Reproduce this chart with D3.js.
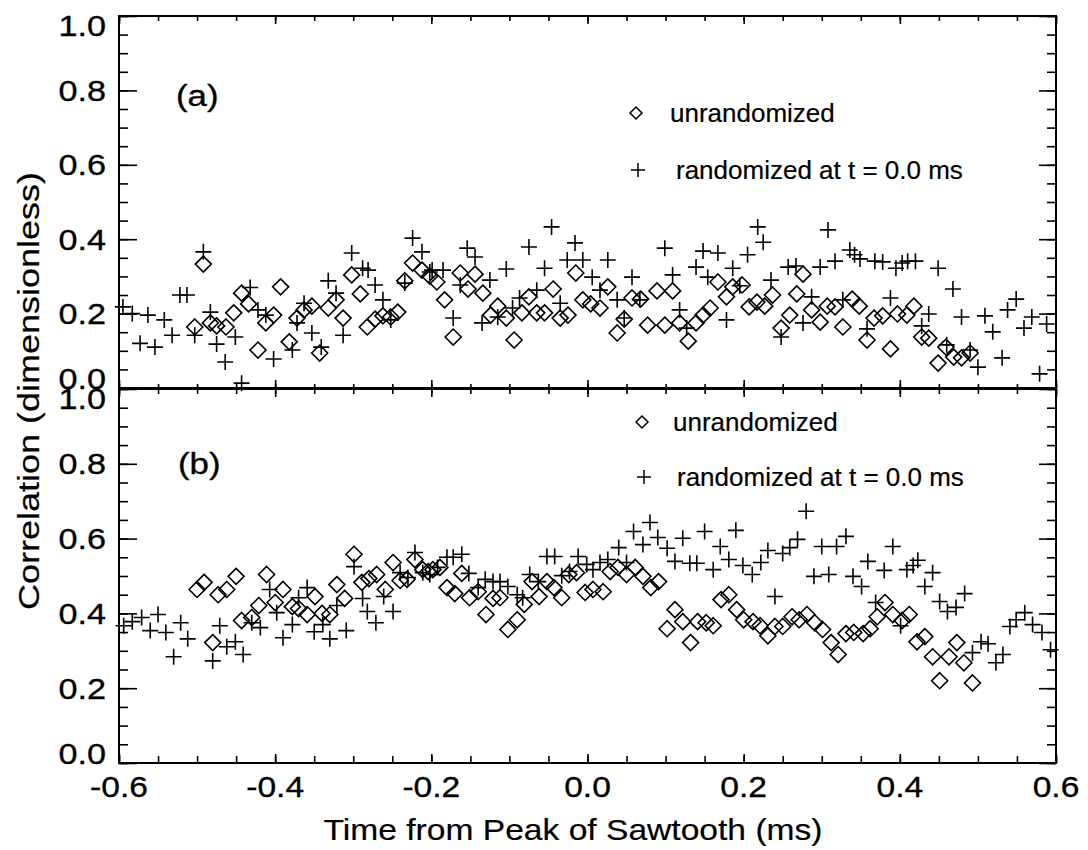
<!DOCTYPE html>
<html>
<head>
<meta charset="utf-8">
<script src="https://cdn.jsdelivr.net/npm/d3@7"></script>
<style>
  html, body { margin: 0; padding: 0; background: #fff; }
  svg { display: block; }
  text { font-family: "Liberation Sans", Arial, Helvetica, sans-serif; fill: #000; }
</style>
</head>
<body>
<svg id="chart" width="1088" height="850"></svg>
<script>
// Correlation vs. time from sawtooth peak, [time (ms), correlation]
const panelAUnrandomized = [[-0.503,0.164],[-0.492,0.333],[-0.483,0.175],[-0.475,0.167],[-0.463,0.164],[-0.453,0.202],[-0.443,0.255],[-0.434,0.226],[-0.422,0.102],[-0.412,0.175],[-0.402,0.196],[-0.393,0.272],[-0.382,0.124],[-0.372,0.188],[-0.363,0.210],[-0.353,0.220],[-0.343,0.094],[-0.332,0.215],[-0.322,0.237],[-0.313,0.188],[-0.302,0.304],[-0.291,0.253],[-0.282,0.164],[-0.272,0.185],[-0.262,0.194],[-0.252,0.191],[-0.243,0.204],[-0.234,0.288],[-0.224,0.336],[-0.212,0.317],[-0.202,0.301],[-0.193,0.285],[-0.183,0.237],[-0.172,0.137],[-0.163,0.309],[-0.153,0.266],[-0.144,0.306],[-0.134,0.255],[-0.124,0.196],[-0.115,0.220],[-0.104,0.188],[-0.094,0.129],[-0.084,0.202],[-0.075,0.245],[-0.065,0.202],[-0.055,0.202],[-0.044,0.266],[-0.035,0.188],[-0.025,0.196],[-0.015,0.309],[-0.006,0.237],[0.004,0.226],[0.016,0.215],[0.026,0.272],[0.038,0.148],[0.047,0.185],[0.057,0.242],[0.068,0.239],[0.077,0.169],[0.089,0.261],[0.099,0.169],[0.109,0.261],[0.118,0.175],[0.129,0.126],[0.139,0.175],[0.148,0.196],[0.157,0.215],[0.167,0.285],[0.178,0.245],[0.186,0.272],[0.198,0.277],[0.207,0.218],[0.217,0.231],[0.227,0.220],[0.237,0.250],[0.248,0.161],[0.259,0.196],[0.268,0.253],[0.276,0.306],[0.287,0.210],[0.298,0.177],[0.307,0.220],[0.317,0.218],[0.327,0.164],[0.339,0.239],[0.348,0.220],[0.358,0.129],[0.367,0.188],[0.378,0.194],[0.388,0.105],[0.397,0.199],[0.409,0.196],[0.418,0.220],[0.428,0.137],[0.437,0.134],[0.449,0.067],[0.459,0.110],[0.469,0.083],[0.479,0.081],[0.490,0.094]];

const panelARandomized = [[-0.595,0.218],[-0.583,0.200],[-0.573,0.120],[-0.563,0.196],[-0.554,0.110],[-0.542,0.183],[-0.532,0.142],[-0.522,0.250],[-0.513,0.250],[-0.503,0.142],[-0.492,0.366],[-0.483,0.204],[-0.475,0.118],[-0.464,0.070],[-0.451,0.137],[-0.443,0.013],[-0.432,0.270],[-0.422,0.210],[-0.412,0.196],[-0.402,0.078],[-0.378,0.102],[-0.372,0.175],[-0.363,0.228],[-0.353,0.148],[-0.341,0.110],[-0.332,0.288],[-0.322,0.255],[-0.313,0.142],[-0.302,0.363],[-0.288,0.322],[-0.281,0.317],[-0.272,0.277],[-0.262,0.237],[-0.252,0.183],[-0.234,0.282],[-0.224,0.403],[-0.212,0.366],[-0.202,0.312],[-0.199,0.317],[-0.185,0.317],[-0.172,0.188],[-0.163,0.277],[-0.154,0.376],[-0.144,0.352],[-0.135,0.175],[-0.125,0.290],[-0.115,0.191],[-0.104,0.320],[-0.096,0.215],[-0.087,0.242],[-0.075,0.379],[-0.065,0.263],[-0.055,0.322],[-0.046,0.433],[-0.035,0.228],[-0.026,0.344],[-0.016,0.390],[-0.006,0.344],[0.006,0.298],[0.016,0.263],[0.026,0.344],[0.038,0.237],[0.047,0.188],[0.057,0.298],[0.067,0.237],[0.099,0.376],[0.109,0.304],[0.118,0.210],[0.127,0.161],[0.139,0.325],[0.148,0.368],[0.154,0.298],[0.167,0.363],[0.178,0.183],[0.186,0.322],[0.195,0.275],[0.205,0.358],[0.218,0.433],[0.225,0.392],[0.235,0.290],[0.248,0.137],[0.257,0.325],[0.267,0.328],[0.276,0.175],[0.287,0.245],[0.298,0.325],[0.308,0.425],[0.317,0.341],[0.327,0.237],[0.336,0.371],[0.342,0.358],[0.349,0.347],[0.358,0.159],[0.368,0.341],[0.378,0.339],[0.388,0.242],[0.395,0.322],[0.403,0.336],[0.410,0.341],[0.420,0.341],[0.428,0.167],[0.437,0.199],[0.449,0.322],[0.460,0.116],[0.468,0.266],[0.479,0.191],[0.490,0.102],[0.500,0.056],[0.509,0.194],[0.519,0.151],[0.531,0.081],[0.538,0.210],[0.549,0.239],[0.559,0.161],[0.569,0.191],[0.579,0.038],[0.588,0.172]];

const panelBUnrandomized = [[-0.500,0.464],[-0.491,0.483],[-0.480,0.322],[-0.473,0.450],[-0.462,0.464],[-0.450,0.499],[-0.443,0.381],[-0.430,0.389],[-0.421,0.421],[-0.411,0.504],[-0.400,0.429],[-0.390,0.464],[-0.378,0.418],[-0.370,0.413],[-0.359,0.397],[-0.349,0.445],[-0.340,0.400],[-0.330,0.397],[-0.321,0.477],[-0.311,0.440],[-0.299,0.558],[-0.289,0.483],[-0.280,0.493],[-0.270,0.504],[-0.259,0.464],[-0.249,0.536],[-0.240,0.488],[-0.231,0.491],[-0.221,0.544],[-0.211,0.517],[-0.204,0.512],[-0.198,0.517],[-0.189,0.523],[-0.180,0.469],[-0.170,0.453],[-0.161,0.507],[-0.151,0.442],[-0.140,0.458],[-0.130,0.397],[-0.121,0.440],[-0.112,0.442],[-0.102,0.357],[-0.090,0.383],[-0.081,0.424],[-0.071,0.485],[-0.062,0.445],[-0.052,0.485],[-0.043,0.469],[-0.033,0.442],[-0.024,0.504],[-0.014,0.509],[-0.003,0.456],[0.007,0.464],[0.020,0.458],[0.029,0.512],[0.039,0.523],[0.050,0.504],[0.061,0.523],[0.071,0.499],[0.081,0.469],[0.091,0.485],[0.102,0.359],[0.112,0.410],[0.122,0.378],[0.132,0.322],[0.141,0.378],[0.152,0.375],[0.161,0.367],[0.171,0.437],[0.181,0.450],[0.191,0.410],[0.200,0.383],[0.212,0.378],[0.221,0.367],[0.231,0.340],[0.240,0.365],[0.250,0.365],[0.262,0.391],[0.271,0.383],[0.281,0.397],[0.291,0.375],[0.301,0.357],[0.312,0.322],[0.321,0.290],[0.331,0.346],[0.341,0.349],[0.353,0.346],[0.362,0.359],[0.371,0.391],[0.381,0.429],[0.391,0.397],[0.403,0.381],[0.412,0.397],[0.422,0.324],[0.432,0.338],[0.442,0.284],[0.451,0.220],[0.463,0.284],[0.473,0.322],[0.482,0.268],[0.493,0.214]];

const panelBRandomized = [[-0.594,0.367],[-0.583,0.378],[-0.571,0.389],[-0.560,0.354],[-0.550,0.397],[-0.540,0.349],[-0.530,0.284],[-0.521,0.375],[-0.512,0.332],[-0.480,0.273],[-0.471,0.367],[-0.462,0.311],[-0.451,0.324],[-0.441,0.290],[-0.430,0.375],[-0.419,0.362],[-0.407,0.464],[-0.398,0.402],[-0.390,0.335],[-0.378,0.370],[-0.370,0.442],[-0.359,0.469],[-0.350,0.351],[-0.339,0.370],[-0.330,0.332],[-0.321,0.421],[-0.309,0.354],[-0.299,0.525],[-0.288,0.440],[-0.282,0.405],[-0.271,0.375],[-0.261,0.445],[-0.249,0.405],[-0.240,0.509],[-0.230,0.496],[-0.221,0.563],[-0.211,0.509],[-0.202,0.504],[-0.192,0.523],[-0.180,0.550],[-0.172,0.550],[-0.161,0.558],[-0.152,0.507],[-0.140,0.469],[-0.131,0.491],[-0.121,0.485],[-0.112,0.485],[-0.102,0.472],[-0.090,0.450],[-0.083,0.442],[-0.074,0.504],[-0.063,0.485],[-0.052,0.552],[-0.042,0.552],[-0.033,0.501],[-0.023,0.512],[-0.012,0.552],[-0.001,0.531],[0.007,0.517],[0.016,0.536],[0.026,0.544],[0.040,0.576],[0.050,0.536],[0.059,0.619],[0.071,0.584],[0.080,0.643],[0.090,0.603],[0.102,0.574],[0.112,0.539],[0.122,0.601],[0.131,0.534],[0.140,0.534],[0.150,0.619],[0.161,0.517],[0.170,0.579],[0.181,0.544],[0.190,0.622],[0.199,0.528],[0.211,0.504],[0.222,0.536],[0.231,0.568],[0.240,0.445],[0.250,0.560],[0.259,0.576],[0.269,0.598],[0.280,0.673],[0.290,0.499],[0.300,0.579],[0.309,0.504],[0.319,0.579],[0.331,0.606],[0.340,0.499],[0.351,0.472],[0.359,0.539],[0.369,0.429],[0.380,0.515],[0.391,0.579],[0.401,0.367],[0.409,0.517],[0.417,0.528],[0.423,0.542],[0.432,0.472],[0.442,0.509],[0.451,0.432],[0.461,0.405],[0.472,0.416],[0.483,0.453],[0.493,0.295],[0.504,0.324],[0.513,0.319],[0.523,0.268],[0.532,0.290],[0.541,0.365],[0.549,0.383],[0.560,0.402],[0.570,0.370],[0.582,0.349],[0.593,0.303]];

const xDomain = [-0.6, 0.6];
const yDomain = [0, 1];
const xTickLabels = [-0.6, -0.4, -0.2, 0.0, 0.2, 0.4, 0.6];
const yTickLabels = [0.0, 0.2, 0.4, 0.6, 0.8, 1.0];
const panelLabels = ["(a)", "(b)"];
const legendLabels = ["unrandomized", "randomized at t = 0.0 ms"];
const xTitle = "Time from Peak of Sawtooth (ms)";
const yTitle = "Correlation (dimensionless)";

const svg = d3.select("#chart");
const left = 119, right = 1056;
const x = d3.scaleLinear().domain(xDomain).range([left, right]);
const yA = d3.scaleLinear().domain(yDomain).range([388, 16]);
const yB = d3.scaleLinear().domain(yDomain).range([763, 389]);

const xMajor = d3.range(-0.6, 0.6001, 0.2).map(v => +v.toFixed(2));
const xMinor = d3.range(-0.6, 0.6001, 0.05).map(v => +v.toFixed(2));
const yMajor = d3.range(0, 1.0001, 0.2).map(v => +v.toFixed(2));
const yMinor = d3.range(0, 1.0001, 0.05).map(v => +v.toFixed(2));

// Horizontally widened text, as in the plotting package's default font
function wideText(g, px, py, str, size, anchor, sx, rotate) {
  return g.append("text")
    .attr("transform", `translate(${px},${py})` + (rotate ? ` rotate(${rotate})` : "") + ` scale(${sx},1)`)
    .attr("text-anchor", anchor)
    .attr("font-size", size)
    .attr("stroke", "#000")
    .attr("stroke-width", 0.35)
    .text(str);
}

function styleAxis(g) {
  g.select(".domain").remove();
  g.selectAll(".tick line").attr("stroke", "#000").attr("stroke-width", 1.6);
  g.selectAll(".tick text").remove();
}

function drawFrame(y, opts) {
  const g = svg.append("g");
  const [y0, y1] = y.range();
  // left axis: ticks pointing inward
  g.append("g").attr("transform", `translate(${left},0)`)
    .call(d3.axisLeft(y).tickValues(yMinor).tickSize(-9)).call(styleAxis);
  g.append("g").attr("transform", `translate(${left},0)`)
    .call(d3.axisLeft(y).tickValues(yMajor).tickSize(-18)).call(styleAxis);
  // right axis
  g.append("g").attr("transform", `translate(${right},0)`)
    .call(d3.axisRight(y).tickValues(yMinor).tickSize(-9)).call(styleAxis);
  g.append("g").attr("transform", `translate(${right},0)`)
    .call(d3.axisRight(y).tickValues(yMajor).tickSize(-17)).call(styleAxis);
  // top axis
  g.append("g").attr("transform", `translate(0,${y1})`)
    .call(d3.axisTop(x).tickValues(xMinor).tickSize(-5)).call(styleAxis);
  g.append("g").attr("transform", `translate(0,${y1})`)
    .call(d3.axisTop(x).tickValues(xMajor).tickSize(-8)).call(styleAxis);
  // bottom axis
  g.append("g").attr("transform", `translate(0,${y0})`)
    .call(d3.axisBottom(x).tickValues(xMinor).tickSize(-opts.bottomMinor)).call(styleAxis);
  g.append("g").attr("transform", `translate(0,${y0})`)
    .call(d3.axisBottom(x).tickValues(xMajor).tickSize(-opts.bottomMajor)).call(styleAxis);
  // frame
  g.append("rect")
    .attr("x", left).attr("y", y1)
    .attr("width", right - left).attr("height", y0 - y1)
    .attr("fill", "none").attr("stroke", "#000").attr("stroke-width", 2);
  // y tick labels (end labels nudged inside the frame)
  yTickLabels.forEach(v => {
    let dy = 0;
    if (v === 1) dy = 9;
    if (v === 0) dy = -10;
    wideText(g, 106, y(v) + dy + 10.5, d3.format(".1f")(v), 30, "end", 1.14);
  });
}

const diamond = r => `M0,${-r}L${r},0L0,${r}L${-r},0Z`;
const plus = r => `M${-r},0H${r}M0,${-r}V${r}`;

function drawSeries(data, y, shape, r) {
  svg.append("g").selectAll("path")
    .data(data).join("path")
    .attr("transform", d => `translate(${x(d[0])},${y(d[1])})`)
    .attr("d", shape(r))
    .attr("fill", "none")
    .attr("stroke", "#000")
    .attr("stroke-width", 1.6);
}

drawFrame(yA, { bottomMinor: 4, bottomMajor: 8 });
drawFrame(yB, { bottomMinor: 7, bottomMajor: 9 });

drawSeries(panelAUnrandomized, yA, diamond, 8);
drawSeries(panelARandomized, yA, plus, 8);
drawSeries(panelBUnrandomized, yB, diamond, 8);
drawSeries(panelBRandomized, yB, plus, 8);

// legends and panel labels
const legendG = svg.append("g");
[[636, 113, 170, 670, 676], [642, 422, 477, 673, 677]].forEach(([mx, dyy, py, tx1, tx2]) => {
  legendG.append("path").attr("transform", `translate(${mx},${dyy})`).attr("d", diamond(6))
    .attr("fill", "none").attr("stroke", "#000").attr("stroke-width", 1.5);
  legendG.append("path").attr("transform", `translate(${mx + 2},${py})`).attr("d", plus(7))
    .attr("fill", "none").attr("stroke", "#000").attr("stroke-width", 1.5);
  wideText(legendG, tx1, dyy + 9, legendLabels[0], 26, "start", 1.0).attr("stroke-width", 0.2);
  wideText(legendG, tx2, py + 9, legendLabels[1], 26, "start", 1.0).attr("stroke-width", 0.2);
});
wideText(svg, 176, 106, panelLabels[0], 30, "start", 1.16);
wideText(svg, 178, 474, panelLabels[1], 30, "start", 1.16);

// x tick labels along the bottom
xTickLabels.forEach(v => {
  wideText(svg, x(v), 797, d3.format(".1f")(v).replace("−", "-"), 30, "middle", 1.12);
});

// axis titles
wideText(svg, 573, 840, xTitle, 30, "middle", 1.12).attr("stroke-width", 0.2);
wideText(svg, 39, 391, yTitle, 30, "middle", 1.2, -90).attr("stroke-width", 0.2);
</script>
</body>
</html>
